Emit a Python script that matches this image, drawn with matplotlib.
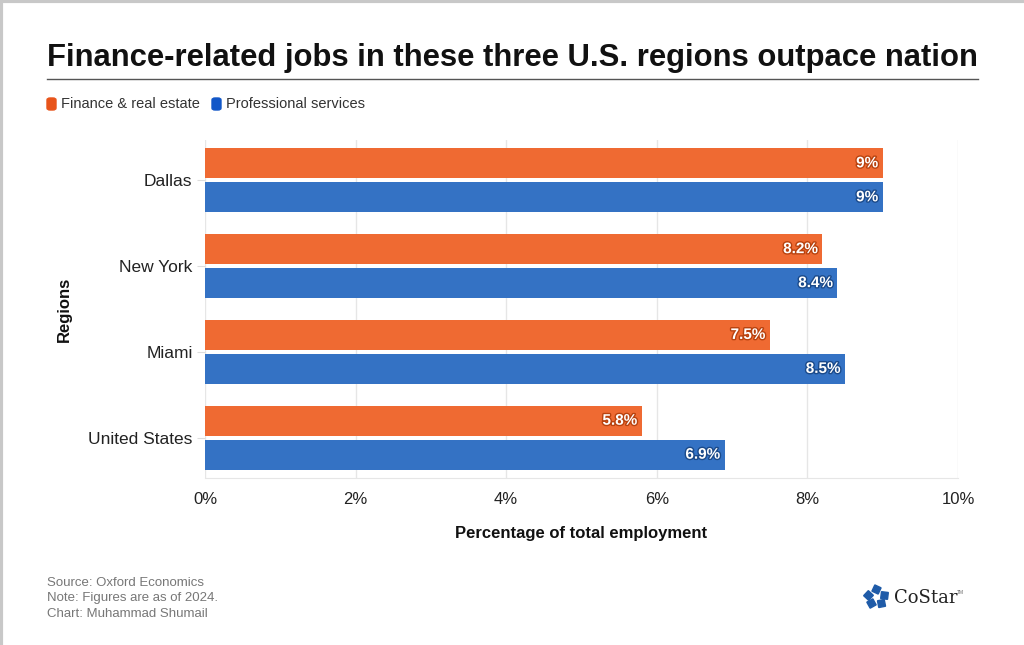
"""Finance-related jobs by region, horizontal grouped bars
"""
import matplotlib.pyplot as plt
import matplotlib.patheffects as pe
import matplotlib.ticker as tck
import numpy as np
from matplotlib.patches import FancyBboxPatch

plt.rcParams["font.family"] = ["Liberation Sans", "DejaVu Sans"]

regions = ["Dallas", "New York", "Miami", "United States"]
finance = [9.0, 8.2, 7.5, 5.8]
professional = [9.0, 8.4, 8.5, 6.9]
finance_labels = ["9%", "8.2%", "7.5%", "5.8%"]
professional_labels = ["9%", "8.4%", "8.5%", "6.9%"]
series_names = ["Finance & real estate", "Professional services"]

orange = "#EF6A32"
blue = "#3472C4"
orange_dark = "#B8420F"
blue_dark = "#1B4A8A"

fig = plt.figure(figsize=(10.24, 6.45), dpi=100)
ax = fig.add_axes([0.2002, 0.2589, 0.7353, 0.524])

ys = np.arange(len(regions))
h = 0.35
off = 0.198
ax.barh(ys - off, finance, height=h, color=orange)
ax.barh(ys + off, professional, height=h, color=blue)

for y, v, lab in zip(ys, finance, finance_labels):
    ax.text(v - 0.06, y - off, lab, ha="right", va="center", color="white",
            fontsize=11, fontweight="bold",
            path_effects=[pe.withStroke(linewidth=2, foreground=orange_dark)])
for y, v, lab in zip(ys, professional, professional_labels):
    ax.text(v - 0.06, y + off, lab, ha="right", va="center", color="white",
            fontsize=11, fontweight="bold",
            path_effects=[pe.withStroke(linewidth=2, foreground=blue_dark)])

ax.set_xlim(0, 10)
ax.set_ylim(3.47, -0.47)
ax.set_yticks(ys)
ax.set_yticklabels(regions, fontsize=12.5)
ax.set_xticks(np.arange(0, 11, 2))
ax.xaxis.set_major_formatter(tck.FuncFormatter(lambda v, p: f"{v:.0f}%"))
ax.tick_params(axis="x", length=0, labelsize=12, pad=10, colors="#222222")
ax.tick_params(axis="y", length=6, color="#dddddd", pad=3, colors="#222222")
ax.grid(axis="x", color="#e6e6e6", linewidth=1)
ax.set_axisbelow(True)
for s in ["top", "right", "left"]:
    ax.spines[s].set_visible(False)
ax.spines["bottom"].set_color("#e6e6e6")
ax.set_xlabel("Percentage of total employment", fontsize=12, fontweight="bold",
              labelpad=14, color="#111111")
ax.set_ylabel("Regions", fontsize=12, fontweight="bold", color="#111111")
ax.yaxis.set_label_coords(-0.177, 0.5)

# title and rule
fig.text(47 / 1024, 1 - 58 / 645, "Finance-related jobs in these three U.S. regions outpace nation",
         fontsize=22.3, fontweight="bold", va="center", ha="left", color="#111111")
fig.add_artist(plt.Line2D([47 / 1024, 978 / 1024], [1 - 79 / 645, 1 - 79 / 645],
                          color="#555555", linewidth=1))

# legend
for name, c, x0 in [(series_names[0], "#E8541A", 47), (series_names[1], "#1257C8", 212)]:
    fig.add_artist(FancyBboxPatch((x0 / 1024, 1 - 110 / 645), 9 / 1024, 12 / 645,
                                  boxstyle="round,pad=0,rounding_size=0.003",
                                  transform=fig.transFigure, color=c))
    fig.text((x0 + 14) / 1024, 1 - 104 / 645, name, fontsize=10.5, va="center",
             ha="left", color="#333333")

# footer
for i, line in enumerate(["Source: Oxford Economics", "Note: Figures are as of 2024.",
                          "Chart: Muhammad Shumail"]):
    fig.text(47 / 1024, 1 - (583 + i * 15.5) / 645, line, fontsize=9.5,
             color="#777777", va="center", ha="left")

# logo
fig.text(894 / 1024, 1 - 598 / 645, "CoStar", fontsize=13, family="DejaVu Serif",
         color="#222222", va="center", ha="left")
fig.text(957 / 1024, 1 - 592 / 645, "TM", fontsize=3.5, color="#666666", va="center")
for k in range(5):
    a = np.deg2rad(90 + 72 * k)
    fig.add_artist(plt.Line2D([(876 + 8 * np.cos(a)) / 1024], [1 - (597 - 8 * np.sin(a)) / 645],
                              marker=(4, 0, 72 * k + 20), markersize=7, color="#1F5BA8",
                              transform=fig.transFigure))

# border
fig.add_artist(plt.Line2D([0.001, 0.001], [0, 1], color="#c8c8c8", linewidth=3))
fig.add_artist(plt.Line2D([0, 1], [0.998, 0.998], color="#c8c8c8", linewidth=3))

fig.savefig("out.png", dpi=100)
